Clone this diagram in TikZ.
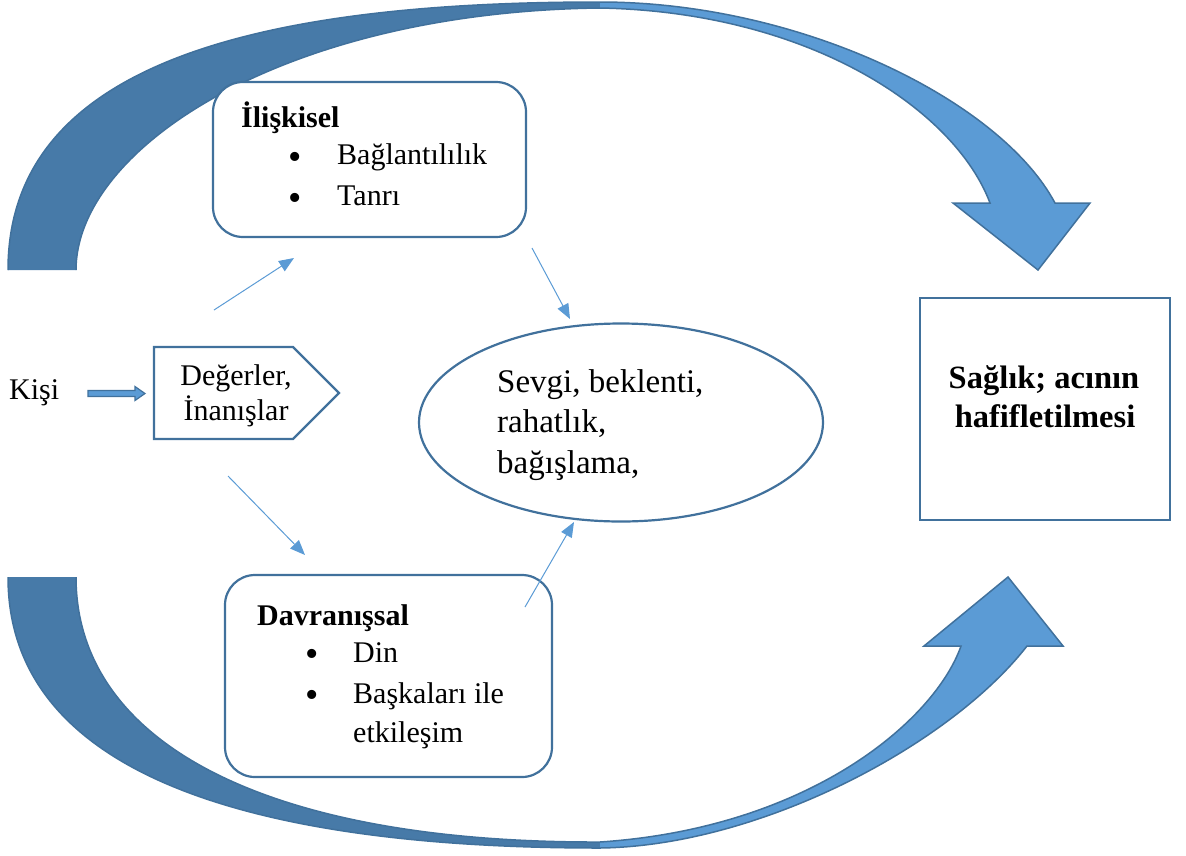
\documentclass[tikz,border=0pt]{standalone}
\usepackage{fontspec}
\setmainfont{Liberation Serif}
\usetikzlibrary{arrows.meta,shapes.geometric,shapes.symbols}
\definecolor{darkarr}{RGB}{71,122,168}
\definecolor{lightarr}{RGB}{91,155,213}
\definecolor{edge}{RGB}{65,113,156}
\begin{document}
\begin{tikzpicture}[x=1pt,y=-1pt,
  txt/.style={inner sep=0pt, font=\fontsize{30}{36}\selectfont, text=black},
  bigtxt/.style={inner sep=0pt, font=\fontsize{33}{40}\selectfont, text=black},
  hdr/.style={inner sep=0pt, font=\fontsize{30}{36}\selectfont\bfseries, text=black},
  outtxt/.style={inner sep=0pt, font=\fontsize{32.5}{39}\selectfont\bfseries, text=black},
  bul/.style={inner sep=0pt, font=\fontsize{38}{38}\selectfont, text=black, anchor=center},
  rbox/.style={draw=edge, line width=2.2pt, rounded corners=30pt, fill=white, inner sep=0pt},
  sbox/.style={draw=edge, line width=2.2pt, fill=white, inner sep=0pt},
  thinarr/.style={draw=lightarr, line width=1pt, -{Triangle[length=15pt,width=12pt]}},
  bigline/.style={draw=edge, line width=1.5pt, line join=miter},
]
\useasboundingbox (0,0) rectangle (1186,855);

% top curved arrow
\fill[darkarr] (8,270) .. controls (8,70) and (240,2) .. (600,2) -- (600,8) .. controls (280,12) and (76,150) .. (76,270) -- cycle;
\fill[lightarr] (600,2) .. controls (800,2) and (1000,100) .. (1055,203) -- (1090,203) -- (1038,270) -- (953,203) -- (990,203) .. controls (955,110) and (810,12) .. (600,8) -- cycle;
\draw[bigline] (8,270) .. controls (8,70) and (240,2) .. (600,2) .. controls (800,2) and (1000,100) .. (1055,203) -- (1090,203) -- (1038,270) -- (953,203) -- (990,203) .. controls (955,110) and (810,12) .. (600,8) .. controls (280,12) and (76,150) .. (76,270);

% bottom curved arrow
\fill[darkarr] (8,577) .. controls (8,770) and (240,848) .. (600,848) -- (600,842) .. controls (260,843) and (76,740) .. (76,577) -- cycle;
\fill[lightarr] (600,848) .. controls (760,846) and (950,745) .. (1027,646) -- (1063,646) -- (1008,577) -- (924,646) -- (961,646) .. controls (935,720) and (810,828) .. (600,842) -- cycle;
\draw[bigline] (8,577) .. controls (8,770) and (240,848) .. (600,848) .. controls (760,846) and (950,745) .. (1027,646) -- (1063,646) -- (1008,577) -- (924,646) -- (961,646) .. controls (935,720) and (810,828) .. (600,842) .. controls (260,843) and (76,740) .. (76,577);

% boxes
\node[rbox, minimum width=313pt, minimum height=155pt] (rel) at (369.5,159.5) {};
\node[rbox, minimum width=327pt, minimum height=202pt] (beh) at (388.5,676) {};
\node[draw=edge, line width=2.2pt, fill=white, ellipse, inner sep=0pt, minimum width=404pt, minimum height=198pt] (res) at (621,422.5) {};
\node[sbox, minimum width=250pt, minimum height=222pt] (out) at (1045,409) {};
\node[draw=edge, line width=2.2pt, fill=white, signal, signal to=east, signal pointer angle=90, inner sep=0pt, minimum width=185pt, minimum height=92pt] (val) at (223.5,393) {};

% texts
\node[txt, anchor=base west] (kisi) at (9,399) {Kişi};
\node[txt, anchor=base] (val1) at (236,385) {Değerler,};
\node[txt, anchor=base] (val2) at (236,420) {İnanışlar};

\node[hdr, anchor=base west] (relh) at (241,127) {İlişkisel};
\node[bul] (relb1) at (295,161) {•};
\node[txt, anchor=base west] (rel1) at (337,164) {Bağlantılılık};
\node[bul] (relb2) at (295,202) {•};
\node[txt, anchor=base west] (rel2) at (337,205) {Tanrı};

\node[hdr, anchor=base west] (behh) at (257,625) {Davranışsal};
\node[bul] (behb1) at (312,658) {•};
\node[txt, anchor=base west] (beh1) at (353,662) {Din};
\node[bul] (behb2) at (312,699) {•};
\node[txt, anchor=base west] (beh2) at (353,703) {Başkaları ile};
\node[txt, anchor=base west] (beh3) at (353,742) {etkileşim};

\node[bigtxt, anchor=base west] (res1) at (497,392) {Sevgi, beklenti,};
\node[bigtxt, anchor=base west] (res2) at (497,432) {rahatlık,};
\node[bigtxt, anchor=base west] (res3) at (497,473) {bağışlama,};

\node[outtxt, anchor=base] (out1) at (1044,388) {Sağlık; acının};
\node[outtxt, anchor=base] (out2) at (1045,427) {hafifletilmesi};

% Kişi block arrow
\draw[fill=lightarr, draw=edge, line width=1.2pt] (88,390.5) -- (135,390.5) -- (135,386.5) -- (145,393.5) -- (135,400.5) -- (135,396.5) -- (88,396.5) -- cycle;

% thin arrows
\coordinate (a1s) at (214,310); \coordinate (a1e) at (294,258);
\coordinate (a2s) at (532,248); \coordinate (a2e) at (570,319);
\coordinate (a3s) at (228,476); \coordinate (a3e) at (305,555);
\coordinate (a4s) at (525,607); \coordinate (a4e) at (574,522);
\draw[thinarr] (a1s) -- (a1e);
\draw[thinarr] (a2s) -- (a2e);
\draw[thinarr] (a3s) -- (a3e);
\draw[thinarr] (a4s) -- (a4e);
\end{tikzpicture}
\end{document}
